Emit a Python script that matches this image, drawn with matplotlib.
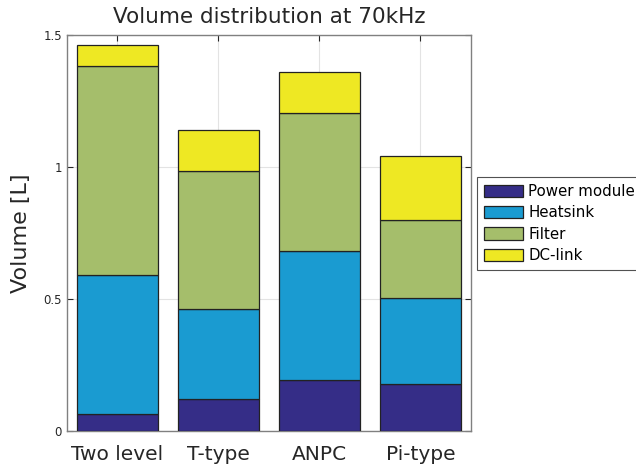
import numpy as np
import matplotlib
matplotlib.use('Agg')
import matplotlib.pyplot as plt

topologies = ['Two level', 'T-type', 'ANPC', 'Pi-type']
components = ['Power module', 'Heatsink', 'Filter', 'DC-link']
power_module = [0.063, 0.120, 0.193, 0.178]
heatsink = [0.529, 0.343, 0.489, 0.327]
filter_vol = [0.793, 0.524, 0.524, 0.294]
dc_link = [0.080, 0.154, 0.153, 0.245]
colors = ['#352d87', '#1a9bd1', '#a5be6b', '#eee823']

fig = plt.figure(figsize=(6.36, 4.70), dpi=100)
ax = fig.add_axes([0.1049, 0.083, 0.6357, 0.8419])

x = np.arange(1, len(topologies) + 1)
bottom = np.zeros(len(topologies))
for name, vals, c in zip(components, [power_module, heatsink, filter_vol, dc_link], colors):
    ax.bar(x, vals, 0.8, bottom=bottom, color=c, edgecolor='#222222', linewidth=0.9, label=name, zorder=3)
    bottom += np.array(vals)

ax.set_xlim(0.5, 4.5)
ax.set_ylim(0, 1.5)
ax.set_xticks(x)
ax.set_xticklabels(topologies, fontsize=14.5, color='#262626')
ax.set_yticks([0, 0.5, 1, 1.5])
ax.set_yticklabels(['0', '0.5', '1', '1.5'], fontsize=8.5, color='#262626')
ax.tick_params(direction='in', top=True, right=True, length=4, color='#262626')
ax.tick_params(axis='x', pad=10)
ax.grid(True, color='#e3e3e3', linewidth=0.8, zorder=0)
for s in ax.spines.values():
    s.set_color('#808080')
    s.set_linewidth(1.0)

ax.set_ylabel('Volume [L]', fontsize=16, color='#262626', labelpad=9)
ax.set_title('Volume distribution at 70kHz', fontsize=15.5, color='#262626', pad=9)

leg = ax.legend(loc='upper left', bbox_to_anchor=(1.015, 0.641), fontsize=10.8, frameon=True,
                fancybox=False, edgecolor='#262626', borderaxespad=0, handlelength=2.6,
                handleheight=0.9, labelspacing=0.42, handletextpad=0.35, borderpad=0.45)
leg.get_frame().set_linewidth(0.8)

fig.savefig('out.png', dpi=100)
